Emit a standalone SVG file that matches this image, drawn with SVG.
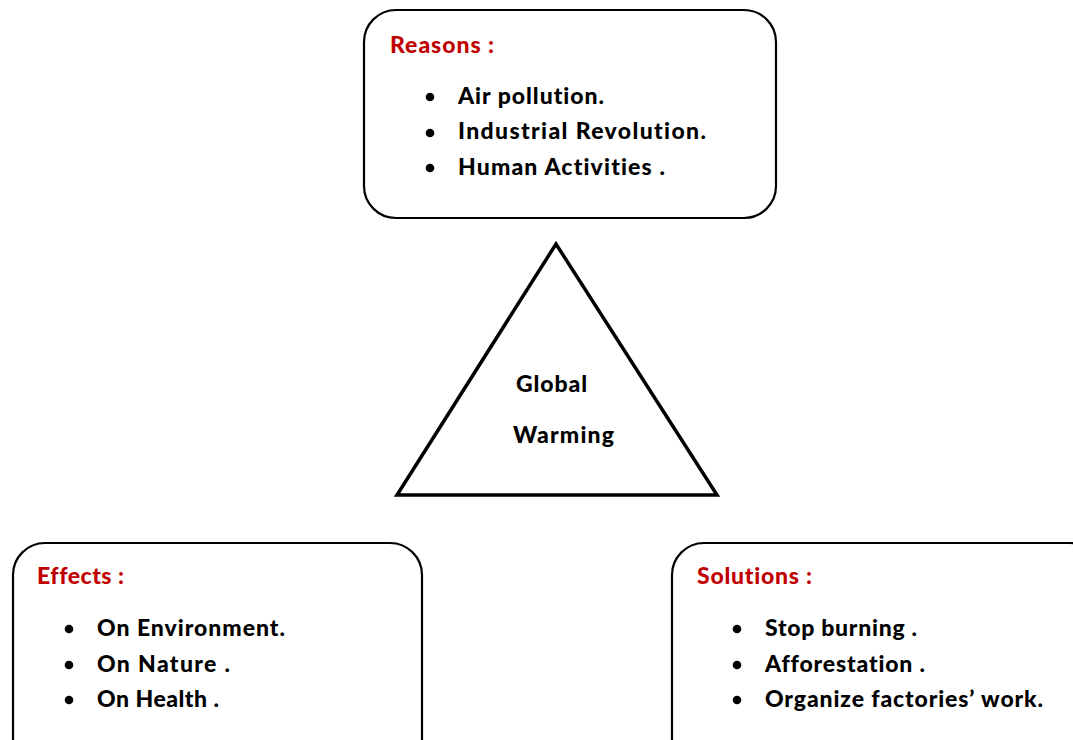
<svg xmlns="http://www.w3.org/2000/svg" width="1073" height="740" viewBox="0 0 1073 740">
<style>
.box{fill:#fff;stroke:#000;stroke-width:2.2}
.tri{fill:#fff;stroke:#000;stroke-width:3.5;stroke-linejoin:miter}
.h,.t{font-family:Lato,"Open Sans","Liberation Sans",sans-serif;font-weight:900;font-size:23px;font-variant-ligatures:none}
.h{fill:#c00000}
.t{fill:#000}
.b{fill:#000}
</style>
<rect width="1073" height="740" fill="#fff"/>
<g id="connectors"></g>
<g id="reasons">
<rect class="box" x="364" y="10" width="412" height="208" rx="32"/>
<text class="h" x="390" y="53" textLength="104">Reasons :</text>
<circle class="b" cx="430" cy="97" r="4.3"/>
<circle class="b" cx="430" cy="133" r="4.3"/>
<circle class="b" cx="430" cy="168" r="4.3"/>
<text class="t" x="458" y="104" textLength="146">Air pollution.</text>
<text class="t" x="458" y="139" textLength="248">Industrial  Revolution.</text>
<text class="t" x="458" y="175" textLength="207">Human  Activities .</text>
</g>
<g id="global-warming">
<polygon class="tri" points="556,244 397,495 717,495"/>
<text class="t" x="516" y="392" textLength="71">Global</text>
<text class="t" x="513" y="443" textLength="101">Warming</text>
</g>
<g id="effects">
<rect class="box" x="13" y="543" width="409" height="230" rx="32"/>
<text class="h" x="37" y="584" textLength="87">Effects :</text>
<circle class="b" cx="69" cy="629" r="4.3"/>
<circle class="b" cx="69" cy="665" r="4.3"/>
<circle class="b" cx="69" cy="700" r="4.3"/>
<text class="t" x="97" y="636" textLength="188">On Environment.</text>
<text class="t" x="97" y="672" textLength="133">On  Nature .</text>
<text class="t" x="97" y="707" textLength="122">On Health .</text>
</g>
<g id="solutions">
<rect class="box" x="672" y="543" width="430" height="230" rx="32"/>
<text class="h" x="697" y="584" textLength="115">Solutions :</text>
<circle class="b" cx="737" cy="629" r="4.3"/>
<circle class="b" cx="737" cy="665" r="4.3"/>
<circle class="b" cx="737" cy="700" r="4.3"/>
<text class="t" x="765" y="636" textLength="152">Stop burning .</text>
<text class="t" x="765" y="672" textLength="160">Afforestation .</text>
<text class="t" x="765" y="707" textLength="278">Organize factories’ work.</text>
</g>
</svg>
